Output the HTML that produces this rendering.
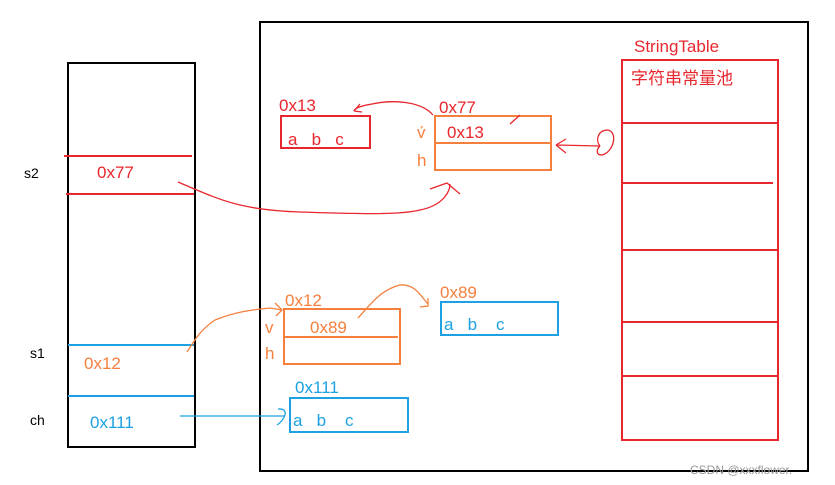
<!DOCTYPE html><html><head><meta charset="utf-8"><style>body{margin:0;background:#fff}svg{display:block}text{font-family:"Liberation Sans","Noto Sans CJK SC",sans-serif}</style></head><body>
<svg width="835" height="485" viewBox="0 0 835 485">
<g fill="none" stroke-width="2">
<rect x="68" y="63" width="127" height="384" stroke="#000"/>
<rect x="260" y="22" width="548" height="449" stroke="#000"/>
<line x1="64" y1="156" x2="192" y2="156" stroke="#e8262d"/>
<line x1="66" y1="194" x2="194" y2="194" stroke="#e8262d"/>
<line x1="68" y1="345" x2="194" y2="345" stroke="#1da1e2"/>
<line x1="68" y1="396" x2="194" y2="396" stroke="#1da1e2"/>
<rect x="622" y="60" width="156" height="380" stroke="#e8262d"/>
<g stroke="#e8262d"><line x1="622" y1="123" x2="777" y2="123"/><line x1="622" y1="183" x2="773" y2="183"/><line x1="622" y1="250" x2="777" y2="250"/><line x1="622" y1="322" x2="777" y2="322"/><line x1="622" y1="376" x2="777" y2="376"/></g>
<rect x="281" y="116" width="89" height="32" stroke="#e8262d"/>
<rect x="435" y="116" width="116" height="54" stroke="#f5803e"/>
<line x1="435" y1="143" x2="551" y2="143" stroke="#f5803e"/>
<rect x="284" y="309" width="116" height="55" stroke="#f5803e"/>
<line x1="284" y1="337" x2="398" y2="337" stroke="#f5803e"/>
<rect x="441" y="302" width="117" height="33" stroke="#1da1e2"/>
<rect x="290" y="398" width="118" height="34" stroke="#1da1e2"/>
<g stroke-width="1.3" stroke="#e8262d">
<path d="M178 182 C220 200 240 210 300 212 C360 214 400 215 420 210 C445 205 450 190 450 184"/>
<path d="M430 189 L447 183 L460 194"/>
<path d="M433 115 C420 100 390 100 372 104 C360 106 355 108 354 111"/>
<path d="M354 111 L360 104 M354 111 L362 112"/>
<path d="M600 146 L556 145 M556 145 L566 139 M556 145 L566 153"/>
<path d="M600 146 C595 140 598 130 608 130 C618 132 614 152 602 155 C596 155 596 150 600 146"/>
<path d="M510 124 L520 115"/>
</g>
<g stroke-width="1.3" stroke="#f5803e">
<path d="M187 352 C195 340 200 330 215 320 C235 312 250 310 270 308 L282 310"/>
<path d="M275 303 L282 310 L276 316"/>
<path d="M358 318 C370 305 380 290 400 285 C415 284 420 295 428 304"/>
<path d="M428 298 L428 306 L420 307"/>
</g>
<g stroke-width="1.3" stroke="#1da1e2"><path d="M180 416 L284 416"/><path d="M278 409 C290 408 285 420 277 425"/></g>
</g>
<g font-size="17">
<text x="24" y="178" fill="#000" font-size="14">s2</text>
<text x="30" y="358" fill="#000" font-size="14">s1</text>
<text x="30" y="425" fill="#000" font-size="14">ch</text>
<text x="97" y="178" fill="#e8262d">0x77</text>
<text x="84" y="369" fill="#f5803e">0x12</text>
<text x="90" y="428" fill="#1da1e2">0x111</text>
<text x="634" y="52" fill="#e8262d">StringTable</text>
<text x="631" y="84" fill="#e8262d">字符串常量池</text>
<text x="279" y="111" fill="#e8262d">0x13</text>
<text x="288" y="145" fill="#e8262d">a&#160;&#160;&#160;b&#160;&#160;&#160;c</text>
<text x="439" y="113" fill="#e8262d">0x77</text>
<text x="447" y="138" fill="#e8262d">0x13</text>
<text x="417" y="138" fill="#f5803e">v́</text>
<text x="417" y="166" fill="#f5803e">h</text>
<text x="285" y="306" fill="#f5803e">0x12</text>
<text x="310" y="333" fill="#f5803e">0x89</text>
<text x="265" y="333" fill="#f5803e">v</text>
<text x="265" y="359" fill="#f5803e">h</text>
<text x="440" y="298" fill="#f5803e">0x89</text>
<text x="444" y="330" fill="#1da1e2">a&#160;&#160;&#160;b&#160;&#160;&#160;&#160;c</text>
<text x="295" y="393" fill="#1da1e2">0x111</text>
<text x="293" y="426" fill="#1da1e2">a&#160;&#160;&#160;b&#160;&#160;&#160;&#160;c</text>
<text x="690" y="474" fill="#999" font-size="12">CSDN @xxxflower.</text>
</g>
</svg></body></html>
